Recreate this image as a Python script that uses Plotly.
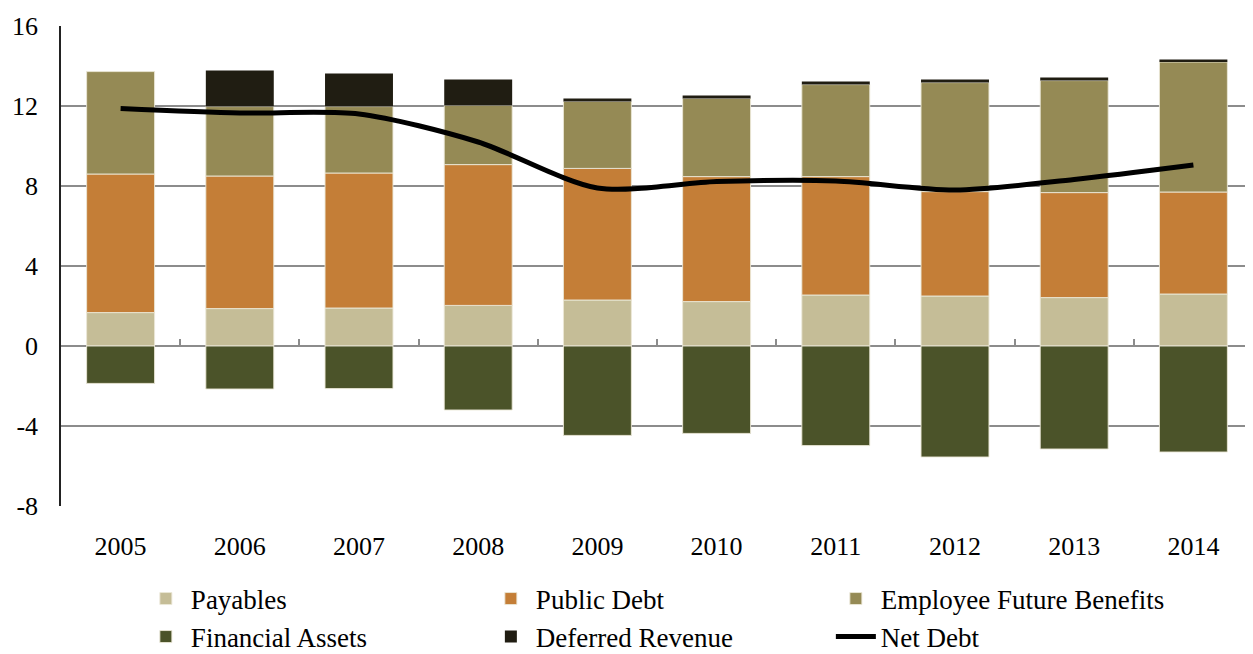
import plotly.graph_objects as go

years = ["2005", "2006", "2007", "2008", "2009", "2010", "2011", "2012", "2013", "2014"]
payables = [1.67, 1.87, 1.90, 2.03, 2.30, 2.22, 2.55, 2.50, 2.42, 2.60]
public_debt = [6.93, 6.63, 6.75, 7.04, 6.58, 6.25, 5.92, 5.22, 5.25, 5.10]
employee_future_benefits = [5.12, 3.47, 3.32, 2.96, 3.35, 3.91, 4.60, 5.45, 5.60, 6.50]
deferred_revenue = [0.0, 1.81, 1.66, 1.30, 0.15, 0.15, 0.15, 0.16, 0.16, 0.12]
financial_assets = [-1.87, -2.15, -2.13, -3.20, -4.47, -4.37, -4.98, -5.55, -5.15, -5.30]
net_debt = [11.88, 11.65, 11.60, 10.20, 7.90, 8.22, 8.25, 7.80, 8.33, 9.05]
y_ticks = [-8, -4, 0, 4, 8, 12, 16]
y_tick_text = ["-8", "-4", "0", "4", "8", "12", "16"]

FONT = "Liberation Serif"
edge = dict(color="rgba(235,232,215,0.9)", width=1)

# The page body has an 8px default margin, so the figure is sized to fit the 1253x654 window.
W, H = 1245, 646
L, T, B = 53, 18, 148
plot_h = H - T - B
plot_bottom = H - B

fig = go.Figure()
fig.add_bar(x=years, y=payables, name="Payables", marker=dict(color="#C5BD97", line=edge), legend="legend")
fig.add_bar(x=years, y=public_debt, name="Public Debt", marker=dict(color="#C47E37", line=edge), legend="legend")
fig.add_bar(x=years, y=employee_future_benefits, name="Employee Future Benefits", marker=dict(color="#958A55", line=edge), legend="legend")
fig.add_bar(x=years, y=financial_assets, name="Financial Assets", marker=dict(color="#4B5329", line=edge), legend="legend2", legendrank=1)
fig.add_bar(x=years, y=deferred_revenue, name="Deferred Revenue", marker=dict(color="#201D12", line=dict(width=0)), legend="legend2", legendrank=2)
fig.add_scatter(x=years, y=net_debt, name="Net Debt", mode="lines",
                line=dict(color="black", width=5, shape="spline", smoothing=0.8), legend="legend2", legendrank=3)

leg_common = dict(orientation="h", x=0.067, xanchor="left", yanchor="middle",
                  entrywidth=290, entrywidthmode="pixels", traceorder="normal",
                  font=dict(family=FONT, size=27, color="black"), itemwidth=40,
                  bgcolor="rgba(0,0,0,0)")

fig.update_layout(
    width=W, height=H,
    barmode="relative", bargap=0.43,
    plot_bgcolor="white", paper_bgcolor="white",
    margin=dict(l=L, r=0, t=T, b=B, autoexpand=False),
    font=dict(family=FONT, size=26, color="black"),
    showlegend=True,
    legend=dict(y=(plot_bottom - 591) / plot_h, **leg_common),
    legend2=dict(y=(plot_bottom - 629) / plot_h, **leg_common),
    xaxis=dict(type="category", showgrid=False, zeroline=False, showline=False,
               ticks="", ticklabelstandoff=22, tickfont=dict(family=FONT, size=26)),
    yaxis=dict(range=[-8, 16], tickvals=y_ticks, ticktext=y_tick_text,
               showgrid=True, gridcolor="#8c8c8c", gridwidth=1.5,
               zeroline=True, zerolinecolor="#8c8c8c", zerolinewidth=2,
               showline=True, linecolor="#222222", linewidth=1.5,
               ticks="", ticklabelstandoff=16, tickfont=dict(family=FONT, size=26)),
    xaxis2=dict(overlaying="x", anchor="free", position=1/3, range=[-0.5, 9.5],
                tickvals=[0.5, 1.5, 2.5, 3.5, 4.5, 5.5, 6.5, 7.5, 8.5],
                ticks="inside", ticklen=7, tickwidth=1.5, tickcolor="#8c8c8c",
                showticklabels=False, showgrid=False, zeroline=False, showline=False),
)
fig.add_scatter(x=[0], y=[0], xaxis="x2", mode="markers", marker=dict(opacity=0),
                showlegend=False, hoverinfo="skip")

fig.write_html("out.html")
